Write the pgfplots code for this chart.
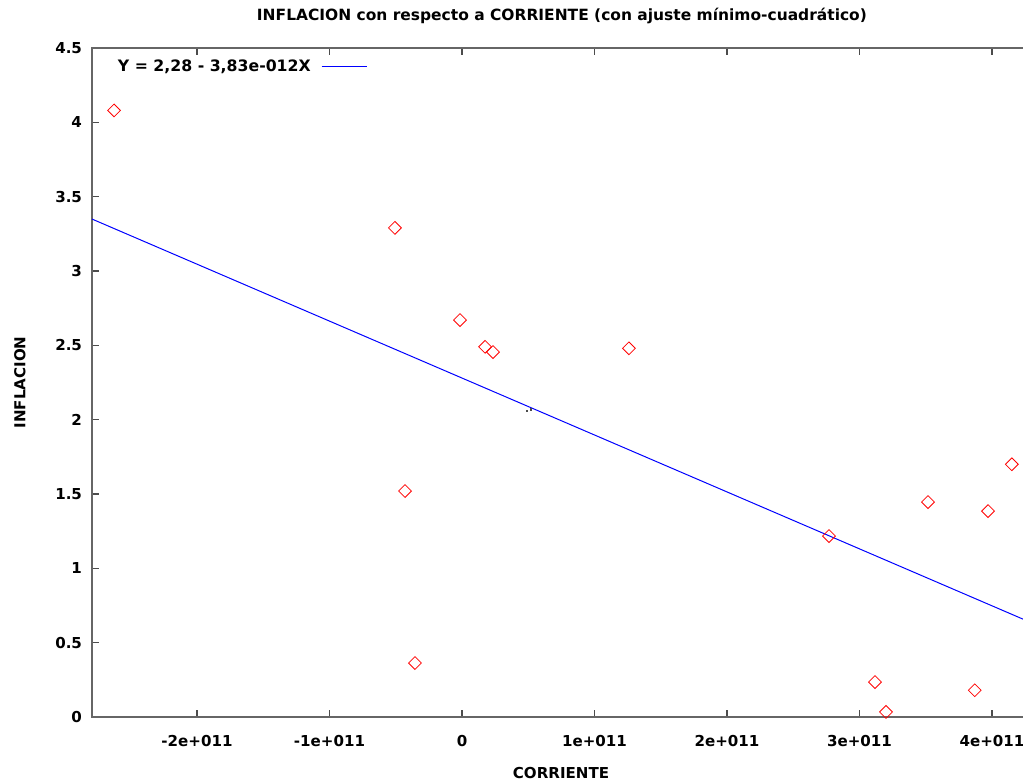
\documentclass[border=0pt]{standalone}
\usepackage{pgfplots}
\pgfplotsset{compat=1.18}
\usepackage{fontspec}
\setmainfont{DejaVu Sans}
\newcommand\ff{\bfseries\fontsize{11.3}{13}\selectfont}
\begin{document}
\begin{tikzpicture}
\begin{axis}[
  at={(0,0)}, anchor=south west,
  scale only axis, width=703.5pt, height=501.75pt,
  xmin=-2.7925e11, xmax=4.287e11, ymin=0, ymax=4.5,
  axis line style={draw=black!60, line width=1pt},
  tick style={draw=black!70, line width=0.8pt},
  major tick length=5pt,
  tick align=inside,
  xtick={-2e11,-1e11,0,1e11,2e11,3e11,4e11},
  xticklabels={-2e+011,-1e+011,0,1e+011,2e+011,3e+011,4e+011},
  ytick={0,0.5,1,1.5,2,2.5,3,3.5,4,4.5},
  yticklabels={0,0.5,1,1.5,2,2.5,3,3.5,4,4.5},
  xtick pos=both, ytick pos=left,
  scaled x ticks=false,
  ticklabel style={font=\ff},
  xticklabel style={yshift=-10.5pt},
  yticklabel style={xshift=-4pt},
  title={INFLACION con respecto a CORRIENTE (con ajuste mínimo-cuadrático)},
  title style={at={(axis description cs:0.501,1.036)}, anchor=center, font=\bfseries\fontsize{11.6}{13}\selectfont},
  xlabel={CORRIENTE}, ylabel={INFLACION},
  xlabel style={at={(axis description cs:0.5,-0.0837)}, anchor=center, font=\ff},
  ylabel style={at={(axis description cs:-0.0768,0.5)}, anchor=center, font=\ff},
  legend style={draw=none, fill=none, at={(axis description cs:0.0245,0.9716)}, anchor=west, inner sep=0pt, font=\bfseries\fontsize{11.8}{13}\selectfont},
  legend cell align=left,
  legend plot pos=right,
  legend image code/.code={\path[draw=none, fill=none] (0pt,0pt) -- (1pt,0pt); \draw[#1] (6.25pt,0pt) -- (40.25pt,0pt);},
]
\addplot[blue, line width=0.75pt] coordinates {(-2.7925e11,3.3495) (4.287e11,0.6381)};
\addlegendentry{Y = 2,28 - 3,83e-012X}
\addplot[only marks, red, mark=square, mark size=3.4pt, mark options={rotate=45, line width=0.6pt}, forget plot] coordinates {
(-2.626e11,4.08)
(-0.506e11,3.29)
(-0.430e11,1.52)
(-0.355e11,0.363)
(-0.015e11,2.67)
(0.174e11,2.49)
(0.234e11,2.455)
(1.260e11,2.48)
(2.770e11,1.217)
(3.117e11,0.235)
(3.200e11,0.034)
(3.517e11,1.446)
(3.870e11,0.180)
(3.970e11,1.385)
(4.150e11,1.700)
};
\addplot[only marks, black!70, mark=square*, mark size=0.5pt, forget plot] coordinates {(0.4906e11,2.058) (0.5208e11,2.071)};
\end{axis}
\pgfresetboundingbox
\path[use as bounding box] (-69pt,-48.75pt) rectangle (698.25pt,537.75pt);
\end{tikzpicture}
\end{document}
